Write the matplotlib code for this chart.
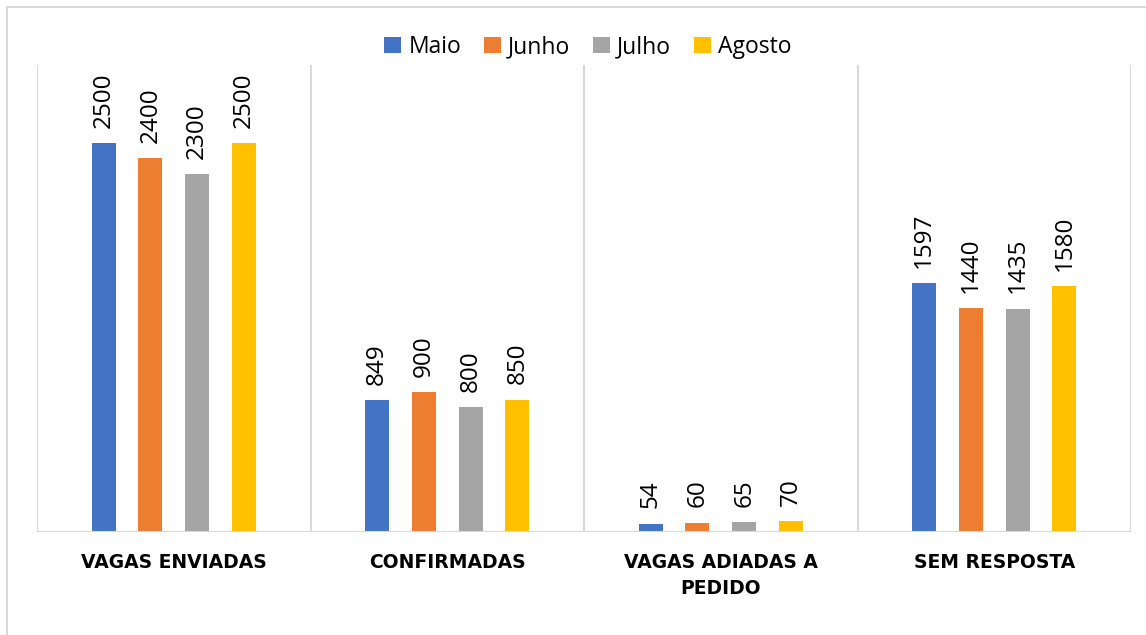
import numpy as np
import matplotlib
matplotlib.use('Agg')
import matplotlib.pyplot as plt
from matplotlib.lines import Line2D

# dados
categorias = ['VAGAS ENVIADAS', 'CONFIRMADAS', 'VAGAS ADIADAS A\nPEDIDO', 'SEM RESPOSTA']
meses = ['Maio', 'Junho', 'Julho', 'Agosto']
maio = [2500, 849, 54, 1597]
junho = [2400, 900, 60, 1440]
julho = [2300, 800, 65, 1435]
agosto = [2500, 850, 70, 1580]
cores = ['#4472C4', '#ED7D31', '#A5A5A5', '#FFC000']

plt.rcParams['font.family'] = ['Open Sans', 'DejaVu Sans']

fig = plt.figure(figsize=(11.46, 6.35), dpi=100)
ax = fig.add_axes([37/1146, 1 - 532/635, (1131-37)/1146, (532-65)/635])

x = np.arange(len(categorias))
largura = 0.088
passo = 0.171
series = [maio, junho, julho, agosto]
for i, (valores, nome, cor) in enumerate(zip(series, meses, cores)):
    pos = x + (i - 1.5) * passo
    barras = ax.bar(pos, valores, largura, color=cor, label=nome, zorder=3)
    for b, v in zip(barras, valores):
        ax.annotate(str(v), (b.get_x() + b.get_width()/2, v),
                    xytext=(0, 11), textcoords='offset points',
                    rotation=90, ha='center', va='bottom', fontsize=17.5)

ax.set_xlim(-0.5, 3.5)
ax.set_ylim(0, 3000)
for s in ax.spines.values():
    s.set_visible(False)
ax.set_yticks([])
for xv in np.arange(-0.5, 4, 1):
    ax.axvline(xv, color='#d9d9d9', lw=1.5, zorder=1)
ax.axhline(0, color='#d9d9d9', lw=1.5, zorder=4)

ax.set_xticks(x)
ax.set_xticklabels(categorias, fontsize=13.5, fontweight='bold', linespacing=1.5,
                   family=['DejaVu Sans'])
ax.tick_params(axis='x', length=0, pad=15)

fig.legend(loc='center', bbox_to_anchor=(588/1146, 1 - 47/635), ncol=4,
           frameon=False, fontsize=16.5, handlelength=0.75, handleheight=0.75,
           handletextpad=0.3, columnspacing=1.0)

# borda do grafico
fig.add_artist(Line2D([7/1146, 7/1146], [0, 1 - 7/635], color='#d9d9d9', lw=1.5))
fig.add_artist(Line2D([7/1146, 1], [1 - 7/635, 1 - 7/635], color='#d9d9d9', lw=1.5))

fig.savefig('out.png', dpi=100)
